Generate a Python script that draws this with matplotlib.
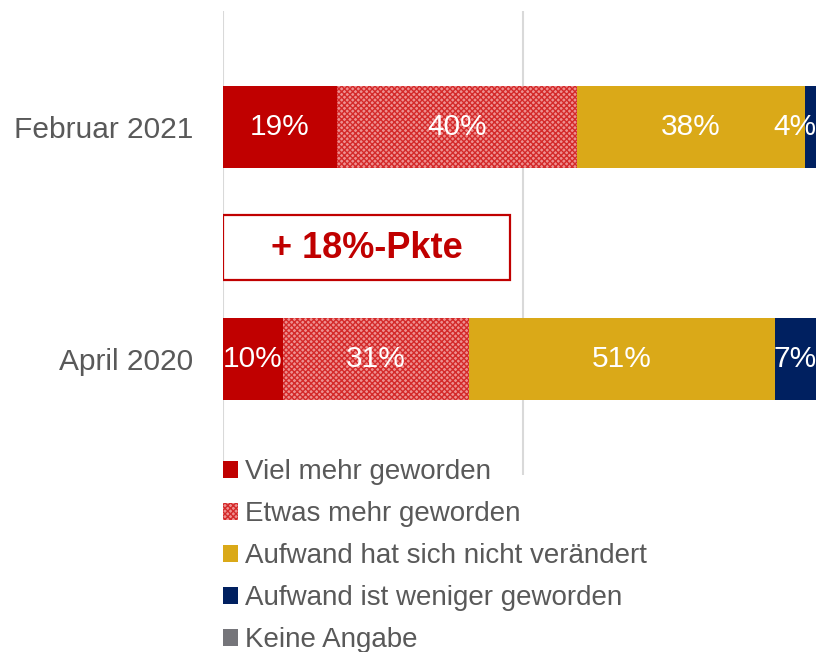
import matplotlib.pyplot as plt
from matplotlib.patches import Rectangle

plt.rcParams['font.family'] = ['Liberation Sans', 'DejaVu Sans']
plt.rcParams['hatch.linewidth'] = 1.0

# Daten
kategorien = ["April 2020", "Februar 2021"]
antworten = ["Viel mehr geworden", "Etwas mehr geworden",
             "Aufwand hat sich nicht verändert",
             "Aufwand ist weniger geworden", "Keine Angabe"]
viel_mehr = [10, 19]
etwas_mehr = [31, 40]
unveraendert = [51, 38]
weniger = [7, 4]
keine_angabe = [1, 0]
differenz_text = "+ 18%-Pkte"

werte = [viel_mehr, etwas_mehr, unveraendert, weniger, keine_angabe]
farben = ['#c00000', '#ee9090', '#daa918', '#002060', '#75757a']
schraffur = [None, 'xxxxxx', None, None, None]
kanten = ['none', '#d42a2a', 'none', 'none', 'none']

grau = '#595959'

fig = plt.figure(figsize=(8.16, 6.52), dpi=100)
ax = fig.add_axes([223 / 816, 177 / 652, 600 / 816, 464 / 652])

y = list(range(len(kategorien)))
links = [0] * len(kategorien)
for serie, farbe, hatch, kante in zip(werte, farben, schraffur, kanten):
    ax.barh(y, serie, left=links, height=0.353, color=farbe, hatch=hatch,
            edgecolor=kante, linewidth=0, zorder=2)
    for i, v in enumerate(serie):
        if v >= 3:
            mitte = min(links[i] + v / 2, 95.3)
            ax.text(mitte, y[i], f"{v}%", color='white', fontsize=21.5,
                    ha='center', va='center', zorder=3)
    links = [l + v for l, v in zip(links, serie)]

ax.set_xlim(0, 100)
ax.set_ylim(-0.5, 1.5)
ax.set_xticks([0, 50, 100])
ax.set_xticklabels([])
ax.tick_params(axis='x', length=0)
ax.grid(axis='x', color='#d9d9d9', linewidth=1.5, zorder=0)
ax.set_yticks(y)
ax.set_yticklabels(kategorien, fontsize=21.5, color=grau)
ax.tick_params(axis='y', length=0, pad=21.5)
for s in ax.spines.values():
    s.set_visible(False)

# Kasten mit Differenz
ax.add_patch(Rectangle((0, 0.341), 47.8, 0.28, facecolor='white',
                       edgecolor='#c00000', linewidth=1.6, zorder=4))
ax.text(23.9, 0.478, differenz_text, color='#c00000', fontsize=26,
        fontweight='bold', ha='center', va='center', zorder=5)

handles = [Rectangle((0, 0), 1, 1, facecolor=f, hatch=h, edgecolor=k, linewidth=0)
           for f, h, k in zip(farben, schraffur, kanten)]
leg = fig.legend(handles, antworten, loc='upper left',
                 bbox_to_anchor=(223 / 816, 1 - 459 / 652), frameon=False,
                 fontsize=20, handlelength=0.55, handleheight=0.55,
                 handletextpad=0.25, labelspacing=0.58, borderpad=0,
                 borderaxespad=0)
for t in leg.get_texts():
    t.set_color(grau)

fig.savefig("out.png", dpi=100)
